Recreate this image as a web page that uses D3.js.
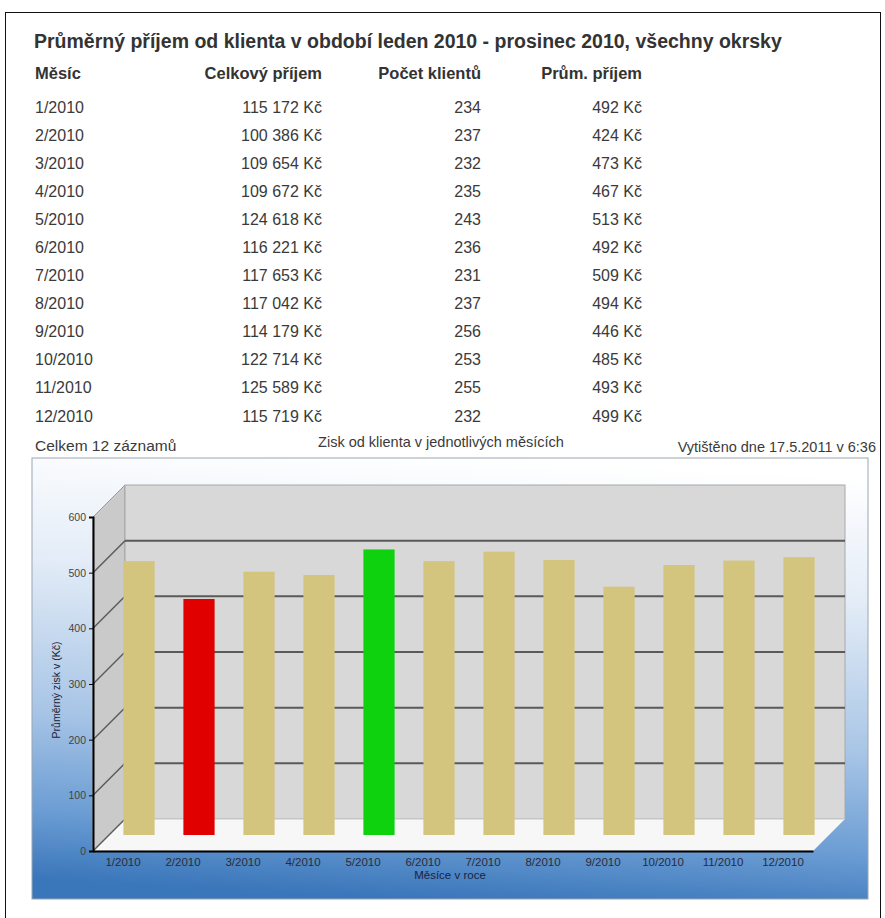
<!DOCTYPE html>
<html>
<head>
<meta charset="utf-8">
<script src="https://cdn.jsdelivr.net/npm/d3@7"></script>
<style>
  html, body { margin: 0; padding: 0; background: #fff; }
  svg { display: block; font-family: "Liberation Sans", Arial, sans-serif; }
</style>
</head>
<body>
<svg id="c" width="885" height="918"></svg>
<script>
// ---- data ----
const title = "Průměrný příjem od klienta v období leden 2010 - prosinec 2010, všechny okrsky";
const headers = ["Měsíc", "Celkový příjem", "Počet klientů", "Prům. příjem"];
const months = ["1/2010","2/2010","3/2010","4/2010","5/2010","6/2010","7/2010","8/2010","9/2010","10/2010","11/2010","12/2010"];
const totalIncome = [115172, 100386, 109654, 109672, 124618, 116221, 117653, 117042, 114179, 122714, 125589, 115719];
const clientCount = [234, 237, 232, 235, 243, 236, 231, 237, 256, 253, 255, 232];
const avgIncome = [492, 424, 473, 467, 513, 492, 509, 494, 446, 485, 493, 499];
const yTicks = [0, 100, 200, 300, 400, 500, 600];
const footerLeft = "Celkem 12 záznamů";
const chartTitle = "Zisk od klienta v jednotlivých měsících";
const footerRight = "Vytištěno dne 17.5.2011 v 6:36";
const yAxisTitle = "Průměrný zisk v (Kč)";
const xAxisTitle = "Měsíce v roce";

const svg = d3.select("#c");
const loc = d3.formatLocale({decimal: ",", thousands: " ", grouping: [3], currency: ["", " Kč"]});
const fmt = loc.format(",d");

// page border
svg.append("rect").attr("x", 5.5).attr("y", 12.5).attr("width", 875).attr("height", 930)
  .attr("fill", "none").attr("stroke", "#111").attr("stroke-width", 1);

const textCol = "#3a3a3a";
// title
svg.append("text").attr("x", 34).attr("y", 48).attr("font-size", 19.5).attr("font-weight", "bold")
  .attr("fill", "#333").text(title);

// table
const colX = [35, 322, 481, 642];
const colAnchor = ["start", "end", "end", "end"];
svg.append("g").selectAll("text").data(headers).join("text")
  .attr("x", (d, i) => colX[i]).attr("y", 79).attr("text-anchor", (d, i) => colAnchor[i])
  .attr("font-size", 16.5).attr("font-weight", "bold").attr("fill", "#333").text(d => d);

const rowY = d3.scaleLinear().domain([0, 11]).range([112.5, 421.5]);
const rows = svg.append("g").selectAll("g").data(months).join("g")
  .attr("transform", (d, i) => `translate(0,${rowY(i)})`)
  .attr("font-size", 16).attr("fill", textCol);
rows.append("text").attr("x", colX[0]).text(d => d);
rows.append("text").attr("x", colX[1]).attr("text-anchor", "end").text((d, i) => fmt(totalIncome[i]) + " Kč");
rows.append("text").attr("x", colX[2]).attr("text-anchor", "end").text((d, i) => clientCount[i]);
rows.append("text").attr("x", colX[3]).attr("text-anchor", "end").text((d, i) => avgIncome[i] + " Kč");

// footer
svg.append("text").attr("x", 35).attr("y", 451).attr("font-size", 15.5).attr("fill", textCol).text(footerLeft);
svg.append("text").attr("x", 441).attr("y", 447).attr("font-size", 14.5).attr("text-anchor", "middle").attr("fill", textCol).text(chartTitle);
svg.append("text").attr("x", 876).attr("y", 452).attr("font-size", 14.5).attr("text-anchor", "end").attr("fill", textCol).text(footerRight);

// chart background
const defs = svg.append("defs");
const g1 = defs.append("linearGradient").attr("id", "bg").attr("x1", 0.55).attr("y1", 0).attr("x2", 0.45).attr("y2", 1);
g1.append("stop").attr("offset", "0%").attr("stop-color", "#ffffff");
g1.append("stop").attr("offset", "28%").attr("stop-color", "#e3ecf7");
g1.append("stop").attr("offset", "62%").attr("stop-color", "#a8c5e6");
g1.append("stop").attr("offset", "85%").attr("stop-color", "#6a9cd3");
g1.append("stop").attr("offset", "100%").attr("stop-color", "#3a76ba");
svg.append("rect").attr("x", 32).attr("y", 458).attr("width", 836).attr("height", 441)
  .attr("fill", "url(#bg)").attr("stroke", "#9aa6b2").attr("stroke-width", 1);

// scales
const x0 = 93, x1 = 813, depth = 32, half = 16;
const x = d3.scaleBand().domain(months).range([x0, x1]).paddingInner(0.48).paddingOuter(0.24);
const y = d3.scaleLinear().domain([0, 600]).range([851, 517]);

// walls
const yTop = y(600), yBot = y(0);
svg.append("polygon")
  .attr("points", [[x0, yTop], [x0 + depth, yTop - depth], [x0 + depth, yBot - depth], [x0, yBot]].join(" "))
  .attr("fill", "#cacaca").attr("stroke", "#9a9a9a");
svg.append("rect").attr("x", x0 + depth).attr("y", yTop - depth).attr("width", x1 - x0)
  .attr("height", yBot - yTop).attr("fill", "#d8d8d8").attr("stroke", "#a8a8a8");
svg.append("polygon")
  .attr("points", [[x0, yBot], [x0 + depth, yBot - depth], [x1 + depth, yBot - depth], [x1, yBot]].join(" "))
  .attr("fill", "#f7f7f7").attr("stroke", "#c8c8c8");

// gridlines
const grid = svg.append("g").attr("stroke", "#5a5a5a").attr("stroke-width", 2);
grid.selectAll("line.h").data(yTicks.filter(v => v > 0 && v < 600)).join("line").attr("class", "h")
  .attr("x1", x0 + depth).attr("x2", x1 + depth).attr("y1", d => y(d) - depth).attr("y2", d => y(d) - depth);
grid.selectAll("line.d").data(yTicks.filter(v => v < 600)).join("line").attr("class", "d")
  .attr("x1", x0).attr("y1", d => y(d)).attr("x2", x0 + depth).attr("y2", d => y(d) - depth)
  .attr("stroke-width", 1.5);

// bars
const minV = d3.min(avgIncome), maxV = d3.max(avgIncome);
const barColor = v => v === minV ? "#e00000" : v === maxV ? "#0fd20f" : "#d3c47e";
svg.append("g").selectAll("rect").data(months).join("rect")
  .attr("x", d => x(d) + half).attr("width", x.bandwidth())
  .attr("y", (d, i) => y(avgIncome[i]) - half)
  .attr("height", (d, i) => y(0) - y(avgIncome[i]))
  .attr("fill", (d, i) => barColor(avgIncome[i]));

// axes
const yAxis = svg.append("g").attr("transform", `translate(${x0},0)`)
  .call(d3.axisLeft(y).tickValues(yTicks).tickSize(4).tickPadding(3));
yAxis.select(".domain").attr("stroke", "#000").attr("stroke-width", 2);
yAxis.selectAll("text").attr("font-size", 10.5).attr("fill", "#444").attr("font-family", "Liberation Sans, Arial, sans-serif");
const xAxis = svg.append("g").attr("transform", `translate(0,${yBot})`)
  .call(d3.axisBottom(x).tickSize(0).tickPadding(7).tickSizeOuter(0));
xAxis.select(".domain").attr("stroke", "#000").attr("stroke-width", 2);
xAxis.selectAll("text").attr("font-size", 11.5).attr("fill", "#2a2a3a").attr("font-family", "Liberation Sans, Arial, sans-serif");

// axis titles
svg.append("text").attr("transform", `translate(60,690) rotate(-90)`).attr("text-anchor", "middle")
  .attr("font-size", 10.5).attr("fill", "#223").text(yAxisTitle);
svg.append("text").attr("x", 450).attr("y", 879).attr("text-anchor", "middle")
  .attr("font-size", 11.5).attr("fill", "#1a2240").text(xAxisTitle);
</script>
</body>
</html>
